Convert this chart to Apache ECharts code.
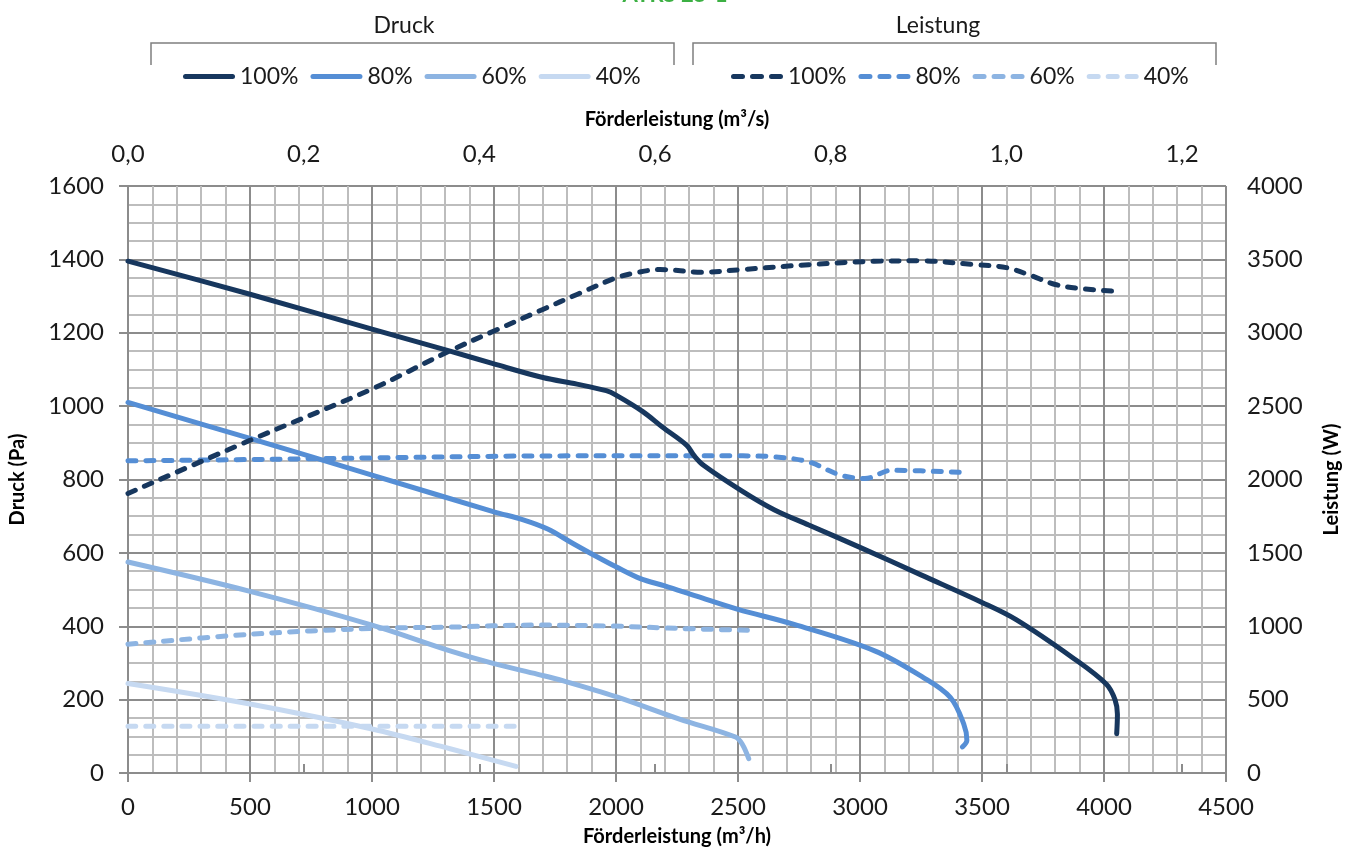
<!DOCTYPE html>
<html>
<head>
<meta charset="utf-8">
<script src="https://cdn.jsdelivr.net/npm/echarts@6/dist/echarts.min.js"></script>
<style>
  html, body { margin: 0; padding: 0; background: #fff; }
  #chart { width: 1350px; height: 852px; }
</style>
</head>
<body>
<div id="chart"></div>
<script>
// Druck (Pa) over Förderleistung (m³/h)
const flowP100 = [0, 500, 1000, 1320, 1500, 1700, 1840, 1960, 2000, 2110, 2190, 2290, 2320, 2360, 2520, 2650, 2790, 3000, 3250, 3500, 3640, 3870, 4010, 4045, 4055, 4052];
const druck100 = [1395, 1305, 1210, 1150, 1115, 1078, 1060, 1042, 1030, 985, 943, 893, 865, 838, 767, 717, 676, 615, 540, 465, 418, 315, 242, 200, 160, 107];
const flowP80 = [0, 500, 1000, 1500, 1620, 1720, 1820, 1920, 2000, 2100, 2200, 2330, 2500, 2730, 3060, 3260, 3370, 3425, 3438, 3420];
const druck80 = [1010, 912, 812, 712, 690, 665, 627, 590, 562, 530, 510, 482, 446, 405, 333, 260, 206, 134, 89, 71];
const flowP60 = [0, 500, 1000, 1320, 1500, 1680, 1785, 2000, 2260, 2490, 2517, 2544];
const druck60 = [575, 495, 403, 333, 298, 269, 251, 208, 147, 98, 79, 39];
const flowP40 = [0, 500, 1000, 1320, 1590];
const druck40 = [244, 188, 120, 66, 18];

// Leistung (W) over Förderleistung (m³/h)
const flowW100 = [0, 500, 1000, 1320, 1500, 1700, 1840, 2000, 2080, 2180, 2350, 2520, 2790, 3060, 3250, 3470, 3600, 3700, 3800, 3900, 4060];
const leistung100 = [1905, 2267, 2617, 2877, 3012, 3159, 3261, 3374, 3408, 3431, 3413, 3431, 3464, 3487, 3490, 3464, 3444, 3390, 3329, 3302, 3281];
const flowW80 = [0, 500, 1000, 1800, 2310, 2520, 2650, 2790, 2920, 3020, 3130, 3430];
const leistung80 = [2127, 2136, 2147, 2161, 2161, 2161, 2154, 2120, 2030, 2007, 2063, 2047];
const flowW60 = [0, 500, 1000, 1320, 1660, 1990, 2260, 2545];
const leistung60 = [877, 945, 985, 994, 1008, 1001, 985, 972];
const flowW40 = [0, 800, 1590];
const leistung40 = [319, 319, 319];

const levels = ['100%', '80%', '60%', '40%'];
const colors = ['#17375e', '#558ed5', '#8db4e2', '#c6d9f1'];

const druckSets = [[flowP100, druck100], [flowP80, druck80], [flowP60, druck60], [flowP40, druck40]];
const leistungSets = [[flowW100, leistung100], [flowW80, leistung80], [flowW60, leistung60], [flowW40, leistung40]];

const zip = (xs, ys) => xs.map((x, i) => [x, ys[i]]);

const font = 'Lato, "Open Sans", sans-serif';
const major = '#8c8c8c';
const minor = '#bdbdbd';

// legend icons: solid bar and three dashes, both with round ends
const solidIcon = 'path://M2.5,0h47a2.5,2.5 0 0 1 0,5h-47a2.5,2.5 0 0 1 0,-5z';
const dashIcon = 'path://M2.5,0h9a2.5,2.5 0 0 1 0,5h-9a2.5,2.5 0 0 1 0,-5z'
    + 'M21.5,0h9a2.5,2.5 0 0 1 0,5h-9a2.5,2.5 0 0 1 0,-5z'
    + 'M40.5,0h9a2.5,2.5 0 0 1 0,5h-9a2.5,2.5 0 0 1 0,-5z';

let series = [];
levels.forEach((lvl, i) => {
    series.push({
        name: 'Druck ' + lvl,
        type: 'line',
        xAxisIndex: 0,
        yAxisIndex: 0,
        data: zip(druckSets[i][0], druckSets[i][1]),
        symbol: 'none',
        smooth: 0.35,
        color: colors[i],
        lineStyle: { width: 5, color: colors[i], cap: 'round' },
        z: 10 - i
    });
});
levels.forEach((lvl, i) => {
    series.push({
        name: 'Leistung ' + lvl,
        type: 'line',
        xAxisIndex: 0,
        yAxisIndex: 1,
        data: zip(leistungSets[i][0], leistungSets[i][1]),
        symbol: 'none',
        smooth: 0.35,
        color: colors[i],
        lineStyle: { width: 5, color: colors[i], type: [8, 10], cap: 'round' },
        z: 10 - i
    });
});

const legendBase = {
    top: 60,
    itemWidth: 52,
    itemHeight: 5,
    itemGap: 12,
    selectedMode: false,
    formatter: n => n.replace(/^\S+ /, ''),
    textStyle: { fontFamily: font, fontSize: 23, color: '#1a1a1a' }
};

const chart = echarts.init(document.getElementById('chart'));
chart.setOption({
    animation: false,
    backgroundColor: '#fff',
    title: {
        text: 'ATRS 25-1',
        left: 'center',
        top: -21,
        textStyle: { fontFamily: font, fontSize: 22, fontWeight: 'bold', color: '#3cb043' }
    },
    legend: [
        Object.assign({}, legendBase, { left: 178, icon: solidIcon, data: levels.map(l => 'Druck ' + l) }),
        Object.assign({}, legendBase, { left: 726, icon: dashIcon, data: levels.map(l => 'Leistung ' + l) })
    ],
    graphic: [
        { type: 'polyline', shape: { points: [[151, 65], [151, 43], [674, 43], [674, 65]] }, style: { stroke: '#7f7f7f', lineWidth: 1.5, fill: null } },
        { type: 'polyline', shape: { points: [[693, 65], [693, 43], [1216, 43], [1216, 65]] }, style: { stroke: '#7f7f7f', lineWidth: 1.5, fill: null } },
        { type: 'text', x: 404, y: 26, style: { text: 'Druck', fontFamily: font, fontSize: 23, fill: '#1a1a1a', align: 'center', verticalAlign: 'middle' } },
        { type: 'text', x: 938, y: 26, style: { text: 'Leistung', fontFamily: font, fontSize: 23, fill: '#1a1a1a', align: 'center', verticalAlign: 'middle' } }
    ],
    grid: { left: 128, right: 116, top: 186, bottom: 76, containLabel: false },
    xAxis: [{
        type: 'value',
        position: 'bottom',
        min: 0, max: 4500, interval: 500,
        name: 'Förderleistung (m³/h)',
        nameLocation: 'middle',
        nameGap: 54,
        nameTextStyle: { fontFamily: font, fontSize: 20, fontWeight: 'bold', color: '#000' },
        axisLine: { show: true, lineStyle: { color: major, width: 2 } },
        axisTick: { show: true, length: 9, lineStyle: { color: major, width: 2 } },
        axisLabel: { fontFamily: font, fontSize: 24, color: '#1a1a1a', margin: 22, formatter: v => String(v) },
        splitLine: { show: true, lineStyle: { color: major, width: 2 } },
        minorTick: { show: false, splitNumber: 5 },
        minorSplitLine: { show: true, lineStyle: { color: minor, width: 2 } }
    }, {
        type: 'value',
        position: 'top',
        min: 0, max: 1.25, interval: 0.2,
        name: 'Förderleistung (m³/s)',
        nameLocation: 'middle',
        nameGap: 56,
        nameTextStyle: { fontFamily: font, fontSize: 20, fontWeight: 'bold', color: '#000' },
        axisLine: { show: true, lineStyle: { color: major, width: 2 } },
        axisTick: { show: true, length: 9, lineStyle: { color: major, width: 2 } },
        axisLabel: { fontFamily: font, fontSize: 24, color: '#1a1a1a', margin: 20, showMaxLabel: false,
            formatter: v => v.toFixed(1).replace('.', ',') },
        splitLine: { show: false }
    }],
    yAxis: [{
        type: 'value',
        position: 'left',
        min: 0, max: 1600, interval: 200,
        name: 'Druck (Pa)',
        nameLocation: 'middle',
        nameGap: 100,
        nameTextStyle: { fontFamily: font, fontSize: 20, fontWeight: 'bold', color: '#000' },
        axisLine: { show: true, lineStyle: { color: major, width: 2 } },
        axisTick: { show: true, length: 9, lineStyle: { color: major, width: 2 } },
        axisLabel: { fontFamily: font, fontSize: 24, color: '#1a1a1a', margin: 24, formatter: v => String(v) },
        splitLine: { show: true, lineStyle: { color: major, width: 2 } },
        minorTick: { show: false, splitNumber: 4 },
        minorSplitLine: { show: true, lineStyle: { color: minor, width: 2 } }
    }, {
        type: 'value',
        position: 'right',
        min: 0, max: 4000, interval: 500,
        name: 'Leistung (W)',
        nameLocation: 'middle',
        nameGap: 96,
        nameTextStyle: { fontFamily: font, fontSize: 20, fontWeight: 'bold', color: '#000' },
        axisLine: { show: true, lineStyle: { color: major, width: 2 } },
        axisTick: { show: true, length: 9, lineStyle: { color: major, width: 2 } },
        axisLabel: { fontFamily: font, fontSize: 24, color: '#1a1a1a', margin: 21, formatter: v => String(v) },
        splitLine: { show: false }
    }],
    series: series
});
</script>
</body>
</html>
